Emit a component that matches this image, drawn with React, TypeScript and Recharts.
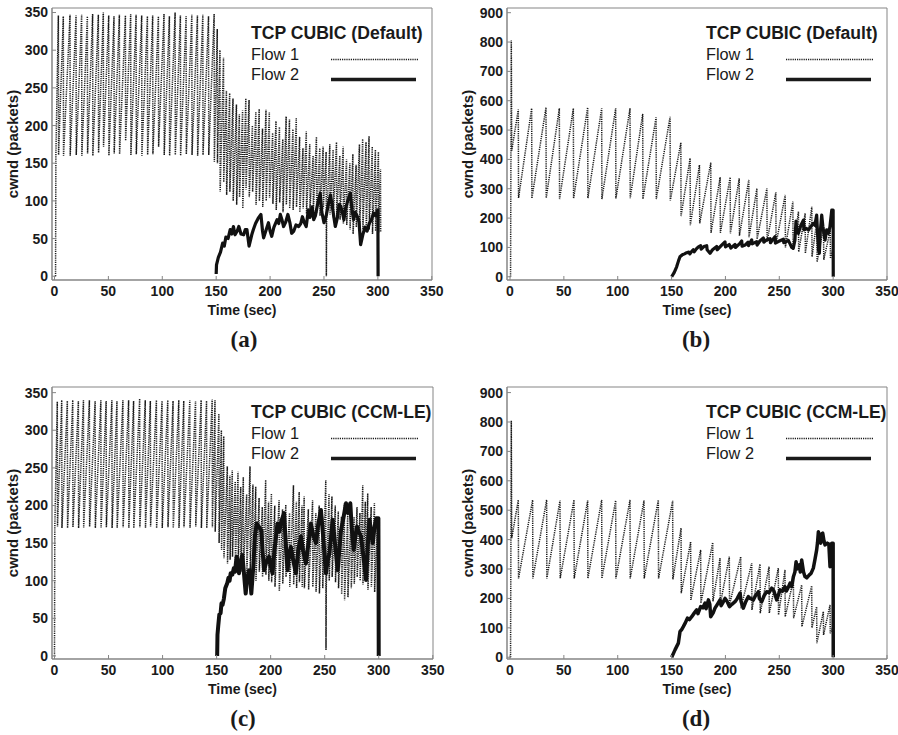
import { LineChart, Line, XAxis, YAxis, Legend, ReferenceArea } from 'recharts'

type Pt = [number, number]

const timeTicks = [0, 50, 100, 150, 200, 250, 300, 350]
const cwndTicksSmall = [0, 50, 100, 150, 200, 250, 300, 350]
const cwndTicksLarge = [0, 100, 200, 300, 400, 500, 600, 700, 800, 900]
const flowNames = ['Flow 1', 'Flow 2']
const titles = ['TCP CUBIC (Default)', 'TCP CUBIC (Default)', 'TCP CUBIC (CCM-LE)', 'TCP CUBIC (CCM-LE)']
const captions = ['(a)', '(b)', '(c)', '(d)']

// (a) default cubic, small buffer
const aFlow1: Pt[] = [
  [1, 0], [1.3, 160], [3.6, 346], [3.8, 161], [8.2, 345], [8.4, 160], [14.4, 347], [14.6, 160],
  [20.0, 346], [20.2, 161], [25.2, 347], [25.4, 160], [30.5, 345], [30.7, 163], [35.4, 348], [35.6, 160],
  [40.7, 347], [40.9, 164], [45.3, 350], [45.5, 172], [50.3, 346], [50.5, 160], [55.2, 345], [55.4, 163],
  [60.2, 347], [60.4, 162], [65.8, 346], [66.0, 180], [70.7, 348], [70.9, 161], [75.7, 347], [75.9, 162],
  [80.9, 346], [81.1, 160], [86.2, 345], [86.4, 161], [91.1, 346], [91.3, 162], [96.4, 345], [96.6, 172],
  [101.6, 348], [101.8, 161], [106.6, 345], [106.8, 160], [111.9, 350], [112.1, 161], [116.8, 346], [117.0, 160],
  [122.1, 345], [122.3, 162], [127.4, 347], [127.6, 161], [132.6, 346], [132.8, 160], [137.6, 347], [137.8, 161],
  [142.9, 345], [143.1, 161], [148.1, 348], [148.3, 152],
  [151.0, 328], [151.2, 150], [153.5, 300], [153.7, 112], [156.8, 290], [157.0, 125], [159.5, 246], [159.7, 108],
  [162.5, 243], [162.7, 112], [165.6, 236], [165.8, 100], [168.8, 228], [169.0, 95], [171.5, 215], [171.7, 105],
  [174.5, 220], [174.7, 90], [177.5, 236], [177.7, 115], [180.5, 234], [180.7, 105], [183.6, 200], [183.8, 112],
  [186.8, 218], [187.0, 95], [189.9, 222], [190.1, 100], [193.0, 196], [193.2, 92], [196.2, 221], [196.4, 100],
  [199.3, 218], [199.5, 104], [202.4, 190], [202.6, 96], [205.5, 206], [205.7, 88], [208.7, 198], [208.9, 98],
  [211.8, 182], [212.0, 85], [214.9, 212], [215.1, 95], [218.0, 208], [218.2, 90], [221.2, 195], [221.4, 88],
  [224.3, 210], [224.5, 92], [227.4, 185], [227.6, 85], [230.5, 170], [230.7, 90], [233.6, 192], [233.8, 83],
  [236.8, 175], [237.0, 88], [239.9, 160], [240.1, 82], [243.0, 185], [243.2, 84], [246.1, 170], [246.3, 80],
  [249.2, 172], [249.4, 90], [252.0, 165], [252.2, 0], [252.5, 74], [255.4, 175], [255.6, 82], [258.5, 168],
  [258.7, 78], [261.6, 178], [261.8, 80], [264.7, 160], [264.9, 75], [267.8, 172], [268.0, 70], [270.9, 155],
  [271.1, 68], [274.0, 150], [274.2, 62], [276.8, 162], [277.0, 56], [279.8, 148], [280.0, 65], [282.9, 175],
  [283.1, 60], [285.9, 182], [286.1, 62], [289.0, 178], [289.2, 58], [291.8, 186], [292.0, 62], [294.8, 172],
  [295.0, 56], [297.7, 168], [297.9, 60], [300.5, 165], [300.7, 58], [302.4, 142], [302.6, 58],
]
const aFlow2: Pt[] = [
  [150, 3], [150.3, 15], [152, 25], [154, 32], [156, 44], [157.5, 40], [159, 52], [161, 50], [163, 62],
  [164.5, 56], [166, 66], [167.5, 55], [169.5, 60], [171, 66], [173, 56], [175.5, 55], [177, 62], [178.5, 62],
  [180.5, 40], [183, 55], [184.5, 62], [186.5, 70], [189, 77], [191.5, 82], [193, 60], [194, 51], [196, 60],
  [198.5, 71], [200, 60], [201.5, 53], [203.5, 65], [206.5, 75], [208, 70], [209.5, 82], [211, 75], [212.5, 66],
  [214.5, 72], [216.5, 82], [218.5, 70], [220, 57], [222, 60], [224, 68], [226.5, 66], [228.5, 70], [230, 79],
  [231.5, 72], [233.5, 66], [235.5, 88], [237, 78], [239, 92], [240.5, 75], [242, 80], [244, 95], [246.5, 110],
  [248, 85], [250, 71], [252, 80], [254, 95], [256, 108], [258.5, 85], [260.5, 66], [262.5, 78], [264, 95],
  [265.5, 93], [267, 85], [268.5, 75], [270, 90], [272, 100], [274.5, 110], [276, 88], [277.5, 75], [279, 85],
  [281, 79], [282.5, 72], [284, 42], [286, 55], [288, 65], [290, 60], [292, 70], [294, 75], [296, 84], [298, 80],
  [299.5, 87], [300, 88], [300.2, 0],
]

// (b) default cubic, large buffer
const bFlow1: Pt[] = [
  [0.5, 0], [1.2, 805], [1.6, 430], [7.7, 570], [7.9, 268], [20.1, 574], [20.3, 267], [33.4, 577], [33.6, 268],
  [45.8, 574], [46.0, 265], [58.8, 574], [59.0, 267], [72.1, 577], [72.3, 268], [85.1, 574], [85.3, 265],
  [98.1, 574], [98.3, 267], [111.4, 574], [111.6, 268], [123.2, 555], [123.4, 265], [135.6, 543], [135.8, 265],
  [148.6, 545], [148.8, 260], [158.6, 457], [158.8, 207], [167.2, 404], [167.4, 176], [175.9, 381], [176.1, 182],
  [186.4, 389], [186.6, 150], [195.1, 339], [195.3, 150], [204.4, 339], [204.6, 148], [212.8, 335], [213.0, 140],
  [221.7, 330], [221.9, 135], [229.2, 301], [229.4, 128], [238.5, 301], [238.7, 120], [246.8, 288], [247.0, 112],
  [255.5, 279], [255.7, 100], [262.6, 256], [262.8, 92], [267.8, 222], [268.0, 85], [274.0, 216], [274.2, 80],
  [280.2, 239], [280.4, 68], [284.9, 193], [285.1, 50], [291.1, 170], [291.3, 58], [297.3, 159], [297.5, 62],
  [299.5, 90],
]
const bFlow2: Pt[] = [
  [150.1, 0], [152.5, 15], [154.7, 34], [156.5, 55], [157.8, 68], [160, 75], [162, 78], [164, 82], [166, 84],
  [167, 78], [168.5, 86], [170.2, 92], [171, 85], [173, 95], [174.9, 102], [177, 106], [177.5, 94], [180, 103],
  [182.6, 106], [183, 92], [185.7, 80], [188, 92], [191.9, 103], [192.3, 92], [196.5, 108], [199.6, 119],
  [200, 102], [203.5, 110], [205, 98], [208.9, 110], [209.3, 100], [213, 112], [215.1, 122], [215.5, 104],
  [218.2, 108], [221, 118], [221.4, 106], [224.4, 126], [224.8, 112], [229, 120], [229.4, 108], [232, 122],
  [235.2, 132], [235.6, 118], [238, 125], [241.4, 130], [241.8, 116], [246, 137], [246.4, 115], [249.1, 120],
  [253.8, 128], [254.2, 116], [258.4, 124], [260, 112], [261.5, 100], [263, 97], [264.5, 125], [265.5, 190],
  [266.5, 150], [267.7, 148], [270, 175], [272.4, 193], [273, 160], [275, 165], [277, 159], [279, 170],
  [281.6, 182], [283, 175], [284.7, 210], [285.5, 150], [286.5, 90], [287.2, 80], [288, 150], [289.4, 210],
  [290.5, 170], [292.5, 125], [294, 160], [295.6, 148], [297, 170], [298.7, 227], [300, 227], [300.1, 0],
]

// (c) CCM-LE, small buffer
const cFlow1: Pt[] = [
  [0, 0], [0.3, 170], [2.6, 338], [2.8, 172], [6.7, 340], [6.9, 170], [11.9, 339], [12.1, 170], [16.9, 340],
  [17.1, 171], [22.1, 339], [22.3, 170], [26.8, 340], [27.0, 170], [32.3, 340], [32.5, 172], [37.6, 339],
  [37.8, 170], [42.9, 340], [43.1, 170], [47.8, 339], [48.0, 171], [53.1, 340], [53.3, 170], [57.8, 339],
  [58.0, 170], [63.3, 340], [63.5, 171], [68.6, 340], [68.8, 170], [73.2, 339], [73.4, 170], [78.8, 342],
  [79.0, 171], [84.0, 340], [84.2, 170], [88.7, 339], [88.9, 172], [94.3, 340], [94.5, 170], [99.5, 339],
  [99.7, 170], [104.8, 340], [105.0, 171], [109.7, 339], [109.9, 170], [115.0, 340], [115.2, 170], [119.6, 339],
  [119.8, 171], [125.2, 340], [125.4, 170], [130.5, 339], [130.7, 172], [135.7, 340], [135.9, 170], [140.7, 339],
  [140.9, 170], [145.9, 341], [146.1, 171], [148.5, 340], [148.7, 165],
  [152.1, 322], [152.3, 150], [154.4, 300], [154.6, 141], [156.6, 292], [156.8, 130], [159.9, 252], [160.1, 123],
  [162.3, 240], [162.5, 128], [164.5, 247], [164.7, 132], [167.2, 232], [167.4, 118], [169.8, 245], [170.0, 120],
  [172.3, 225], [172.5, 112], [174.7, 238], [174.9, 114], [177.8, 215], [178.0, 108], [180.9, 252], [181.1, 110],
  [183.6, 228], [183.8, 105], [186.2, 225], [186.4, 100], [189.3, 210], [189.5, 112], [192.3, 198], [192.5, 105],
  [195.4, 234], [195.6, 108], [198.1, 205], [198.3, 100], [200.7, 216], [200.9, 98], [203.8, 200], [204.0, 92],
  [207.8, 207], [208.0, 86], [211.0, 195], [211.2, 96], [214.0, 201], [214.2, 105], [217.5, 190], [217.7, 92],
  [221.1, 227], [221.3, 95], [223.8, 205], [224.0, 90], [226.4, 218], [226.6, 98], [229.0, 200], [229.2, 92],
  [231.0, 212], [231.2, 90], [234.9, 195], [235.1, 88], [238.8, 207], [239.0, 92], [241.8, 190], [242.0, 85],
  [244.9, 200], [245.1, 83], [248.0, 185], [248.2, 90], [251.0, 234], [251.2, 8], [251.5, 95], [254.0, 215],
  [254.2, 100], [256.7, 212], [256.9, 105], [259.8, 200], [260.0, 98], [262.6, 192], [262.8, 90], [265.5, 185],
  [265.7, 82], [268.2, 203], [268.4, 74], [271.3, 188], [271.5, 78], [274.4, 194], [274.6, 90], [277.2, 185],
  [277.4, 96], [279.9, 198], [280.1, 105], [282.6, 190], [282.8, 100], [285.2, 227], [285.4, 95], [287.6, 205],
  [287.8, 100], [289.8, 216], [290.0, 88], [293.0, 198], [293.2, 92], [296.0, 203], [296.2, 85], [299.1, 185],
  [299.3, 79],
]
const cFlow2: Pt[] = [
  [150.5, 0], [150.8, 28], [151.5, 40], [152.5, 55], [153.7, 57], [154.5, 70], [155.5, 68], [156.7, 76],
  [158, 90], [159.9, 97], [161, 104], [162, 100], [163, 110], [164.5, 108], [166, 117], [167, 112], [168.5, 132],
  [169.5, 120], [170.7, 110], [172, 125], [173.8, 134], [175, 115], [176.9, 83], [178, 100], [180, 114],
  [181, 105], [182.1, 83], [184, 120], [185.5, 160], [187.1, 176], [189, 172], [191.4, 167], [192.5, 140],
  [193.9, 114], [196, 125], [198.5, 132], [200, 120], [201.7, 110], [203.5, 140], [206.3, 176], [208, 165],
  [210, 180], [212.5, 190], [213.5, 160], [215.6, 114], [217, 135], [218.7, 145], [220.5, 130], [223.3, 110],
  [225.5, 140], [228, 159], [230, 140], [232.6, 123], [235, 150], [237.2, 176], [239.5, 160], [241.9, 150],
  [244, 175], [246.5, 194], [248.5, 160], [251.2, 110], [252.5, 125], [254.3, 136], [256, 160], [257.3, 181],
  [259.5, 150], [262, 114], [263.5, 140], [265.1, 167], [267.5, 185], [269.7, 203], [271.5, 190], [273.7, 203],
  [275, 170], [276.8, 141], [278.5, 160], [279.9, 172], [281.5, 165], [283.6, 159], [286, 130], [288.3, 101],
  [290, 150], [291.4, 181], [293, 165], [294.5, 150], [296, 170], [297.6, 183], [299.7, 183], [300, 0],
]

// (d) CCM-LE, large buffer
const dFlow1: Pt[] = [
  [0.5, 0], [1.2, 805], [1.6, 405], [7.7, 535], [7.9, 268], [21.0, 535], [21.2, 268], [34.0, 535], [34.2, 268],
  [46.4, 533], [46.6, 268], [59.4, 535], [59.6, 268], [72.1, 533], [72.3, 268], [85.1, 535], [85.3, 268],
  [98.1, 533], [98.3, 268], [111.4, 535], [111.6, 268], [124.4, 533], [124.6, 268], [137.7, 535], [137.9, 268],
  [151.0, 532], [151.2, 265], [158.8, 439], [159.0, 218], [167.7, 393], [167.9, 195], [177.0, 365], [177.2, 184],
  [188.2, 390], [188.4, 190], [195.0, 337], [195.2, 180], [203.6, 342], [203.8, 178], [214.2, 342], [214.4, 167],
  [224.4, 320], [224.6, 161], [232.1, 317], [232.3, 150], [240.5, 308], [240.7, 150], [249.1, 303], [249.3, 144],
  [255.3, 297], [255.5, 138], [263.1, 263], [263.3, 133], [270.8, 246], [271.0, 104], [280.1, 243], [280.3, 100],
  [284.7, 172], [284.9, 48], [290.9, 155], [291.1, 76], [297.1, 178], [297.3, 82], [299.5, 100],
]
const dFlow2: Pt[] = [
  [150.1, 0], [153.2, 25], [156.3, 48], [157.8, 87], [159.5, 95], [160.9, 104], [162.5, 115], [164.7, 133],
  [166.5, 128], [168.7, 138], [171, 150], [173.3, 161], [174.5, 148], [177, 172], [179, 168], [181.1, 184],
  [182, 165], [184.2, 195], [185.5, 180], [186.3, 138], [188.5, 150], [190.3, 167], [192.5, 180], [195, 195],
  [196, 175], [197.5, 185], [199.6, 200], [201.5, 190], [203.7, 172], [206, 180], [208.9, 189], [211, 200],
  [213.6, 218], [214.5, 190], [216.6, 167], [219, 190], [221.3, 206], [223, 200], [225.9, 195], [228, 210],
  [230.6, 223], [231.5, 200], [233.7, 189], [236, 210], [238.3, 223], [240.5, 220], [243, 235], [245, 225],
  [247.6, 195], [249, 210], [250.7, 229], [253, 225], [255.3, 240], [256.5, 225], [258, 235], [260, 252],
  [261.5, 240], [263.1, 274], [264.5, 290], [265.6, 325], [266.5, 300], [268.6, 314], [269.5, 290], [270.8, 331],
  [272.5, 290], [273.9, 274], [275.5, 270], [277.9, 280], [279.5, 285], [281.6, 303], [283, 330], [284.7, 365],
  [285.5, 390], [286.3, 427], [287.5, 400], [288.5, 388], [289.5, 420], [290.3, 422], [291.5, 395], [292.5, 382],
  [294.6, 388], [296, 385], [297.1, 308], [298, 350], [298.7, 388], [300, 388], [300.1, 0],
]

const toRows = (pts: Pt[]) => pts.map(([t, cwnd]) => ({ t, cwnd }))

const INK = '#1a1a1a'
const FRAME = '#858585'
const SANS = '"Liberation Sans", Arial, Helvetica, sans-serif'
const SERIF = '"Liberation Serif", "Times New Roman", serif'

function LegendBox({ title }: { title: string }) {
  return (
    <svg width={240} height={72} style={{ display: 'block', overflow: 'visible' }} fontFamily={SANS}>
      <text x={3} y={21} fontSize={17.6} fontWeight="bold" fill={INK}>{title}</text>
      <text x={3} y={42} fontSize={16.3} fill={INK}>{flowNames[0]}</text>
      <line x1={83} x2={170} y1={41.5} y2={41.5} stroke={INK} strokeWidth={1.4} strokeDasharray="1.2 1" />
      <text x={3} y={62} fontSize={16.3} fill={INK}>{flowNames[1]}</text>
      <line x1={83} x2={168} y1={61.5} y2={61.5} stroke={INK} strokeWidth={3.4} />
    </svg>
  )
}

type PanelProps = {
  left: number
  top: number
  width: number
  rightPad: number
  xDomain: [number, number]
  yDomain: [number, number]
  yTicks: number[]
  flow1: Pt[]
  flow2: Pt[]
  flow2Width: number
  title: string
}

function Panel({ left, top, width, rightPad, xDomain, yDomain, yTicks, flow1, flow2, flow2Width, title }: PanelProps) {
  const tickStyle = { fill: INK, fontSize: 14, fontWeight: 'bold', fontFamily: SANS }
  return (
    <div style={{ position: 'absolute', left, top, width, height: 330 }}>
      <LineChart width={width} height={330} margin={{ top: 8, right: rightPad, bottom: 0, left: 0 }}>
        <XAxis
          dataKey="t"
          type="number"
          domain={xDomain}
          ticks={timeTicks}
          allowDataOverflow
          height={50}
          stroke={FRAME}
          tickSize={-4}
          tickMargin={10}
          tick={tickStyle}
          label={{ value: 'Time (sec)', position: 'insideBottom', offset: 15, fill: INK, fontSize: 14, fontWeight: 'bold', fontFamily: SANS }}
        />
        <YAxis
          type="number"
          domain={yDomain}
          ticks={yTicks}
          allowDataOverflow
          width={52}
          stroke={FRAME}
          tickSize={-4}
          tickMargin={8}
          tick={tickStyle}
          label={{ value: 'cwnd (packets)', angle: -90, position: 'insideLeft', offset: 13, fill: INK, fontSize: 15, fontWeight: 'bold', fontFamily: SANS, style: { textAnchor: 'middle' } }}
        />
        {/* plot frame */}
        <ReferenceArea
          x1={xDomain[0]}
          x2={xDomain[1]}
          y1={yDomain[0]}
          y2={yDomain[1]}
          fill="none"
          stroke={FRAME}
          strokeWidth={1}
          ifOverflow="visible"
        />
        <Legend
          layout="horizontal"
          verticalAlign="middle"
          align="center"
          wrapperStyle={{ left: 248, top: 18, width: 240, height: 72 }}
          content={() => <LegendBox title={title} />}
        />
        <Line
          name={flowNames[0]}
          data={toRows(flow1)}
          dataKey="cwnd"
          type="linear"
          dot={false}
          stroke={INK}
          strokeWidth={1.5}
          strokeDasharray="1.2 1"
          isAnimationActive={false}
        />
        <Line
          name={flowNames[1]}
          data={toRows(flow2)}
          dataKey="cwnd"
          type="linear"
          dot={false}
          stroke="#111"
          strokeWidth={flow2Width}
          strokeLinejoin="round"
          isAnimationActive={false}
        />
      </LineChart>
    </div>
  )
}

function Caption({ text, cx, cy }: { text: string; cx: number; cy: number }) {
  return (
    <div
      style={{
        position: 'absolute',
        left: cx - 40,
        top: cy - 14,
        width: 80,
        height: 28,
        lineHeight: '28px',
        textAlign: 'center',
        fontFamily: SERIF,
        fontWeight: 'bold',
        fontSize: 23,
        color: INK,
      }}
    >
      {text}
    </div>
  )
}

export default function App() {
  return (
    <div style={{ position: 'absolute', left: 0, top: 0, width: 898, height: 735, background: '#fff', fontFamily: SANS }}>
      <Panel left={0} top={0} width={450} rightPad={18} xDomain={[-2.3, 350.2]} yDomain={[-5, 356]}
        yTicks={cwndTicksSmall} flow1={aFlow1} flow2={aFlow2} flow2Width={3.2} title={titles[0]} />
      <Panel left={455} top={0} width={443} rightPad={11} xDomain={[-2.8, 350]} yDomain={[-11, 916]}
        yTicks={cwndTicksLarge} flow1={bFlow1} flow2={bFlow2} flow2Width={3.2} title={titles[1]} />
      <Panel left={0} top={379} width={450} rightPad={17} xDomain={[-2.3, 350.2]} yDomain={[-4, 357.5]}
        yTicks={cwndTicksSmall} flow1={cFlow1} flow2={cFlow2} flow2Width={4} title={titles[2]} />
      <Panel left={455} top={379} width={443} rightPad={11} xDomain={[-2.8, 350]} yDomain={[-6, 919]}
        yTicks={cwndTicksLarge} flow1={dFlow1} flow2={dFlow2} flow2Width={3.5} title={titles[3]} />
      <Caption text={captions[0]} cx={244} cy={340} />
      <Caption text={captions[1]} cx={696} cy={340} />
      <Caption text={captions[2]} cx={243} cy={719} />
      <Caption text={captions[3]} cx={696} cy={719} />
    </div>
  )
}
